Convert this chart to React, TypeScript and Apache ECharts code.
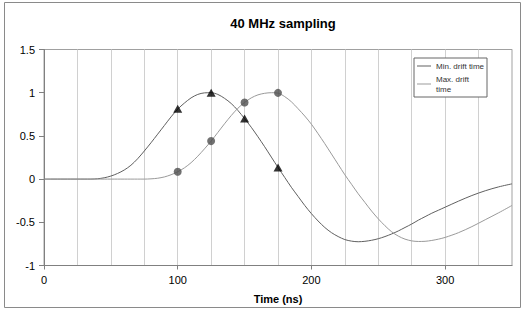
import React, { useEffect, useRef } from "react";
import * as echarts from "echarts";

const times = [0, 5, 10, 15, 20, 25, 30, 35, 40, 45, 50, 55, 60, 65, 70, 75, 80, 85, 90, 95, 100, 105, 110, 115, 120, 125, 130, 135, 140, 145, 150, 155, 160, 165, 170, 175, 180, 185, 190, 195, 200, 205, 210, 215, 220, 225, 230, 235, 240, 245, 250, 255, 260, 265, 270, 275, 280, 285, 290, 295, 300, 310, 320, 330, 340, 350];

const minDrift = [0, 0, 0, 0, 0, 0, 0, 0, 0.004, 0.015, 0.035, 0.065, 0.105, 0.16, 0.235, 0.325, 0.42, 0.52, 0.62, 0.72, 0.81, 0.88, 0.94, 0.98, 0.998, 1.0, 0.98, 0.935, 0.875, 0.795, 0.70, 0.60, 0.49, 0.375, 0.255, 0.135, 0.02, -0.095, -0.2, -0.305, -0.4, -0.485, -0.56, -0.62, -0.665, -0.7, -0.718, -0.725, -0.72, -0.708, -0.69, -0.665, -0.635, -0.6, -0.56, -0.52, -0.475, -0.435, -0.395, -0.36, -0.325, -0.255, -0.19, -0.135, -0.09, -0.055];

const maxDrift = [0, 0, 0, 0, 0, 0, 0, 0, 0, 0, 0, 0, 0, 0, 0, 0, 0.003, 0.01, 0.025, 0.05, 0.085, 0.13, 0.19, 0.265, 0.35, 0.44, 0.54, 0.64, 0.735, 0.82, 0.887, 0.94, 0.975, 0.993, 1.0, 0.995, 0.955, 0.895, 0.815, 0.73, 0.635, 0.525, 0.41, 0.29, 0.17, 0.05, -0.06, -0.17, -0.27, -0.37, -0.46, -0.54, -0.61, -0.66, -0.695, -0.715, -0.722, -0.72, -0.71, -0.695, -0.675, -0.62, -0.55, -0.47, -0.39, -0.305];

const sampleTimes = [100, 125, 150, 175];
const minSamples = [0.815, 1.0, 0.70, 0.135];
const maxSamples = [0.085, 0.44, 0.887, 0.998];

const yTicks = ["-1", "-0.5", "0", "0.5", "1", "1.5"];

const FONT = "'Liberation Sans', Arial, sans-serif";

export default function App() {
  const ref = useRef<HTMLDivElement>(null);
  useEffect(() => {
    if (!ref.current) return;
    const chart = echarts.init(ref.current, null, { renderer: "svg" });
    const pairs = (xs: number[], ys: number[]) => xs.map((x, i) => [x, ys[i]]);
    chart.setOption({
      animation: false,
      backgroundColor: "#ffffff",
      textStyle: { fontFamily: FONT },
      title: {
        text: "40 MHz sampling",
        left: 278,
        textAlign: "center",
        top: 12,
        textStyle: { fontFamily: FONT, fontSize: 13, fontWeight: "bold", color: "#000" },
      },
      graphic: [
        {
          type: "rect",
          shape: { x: 4.5, y: 2.5, width: 516, height: 305 },
          style: { fill: "none", stroke: "#8a8a8a", lineWidth: 1 },
          silent: true,
          z: 0,
        },
      ],
      legend: {
        orient: "vertical",
        left: 414,
        top: 58,
        backgroundColor: "#ffffff",
        borderColor: "#666",
        borderWidth: 1,
        borderRadius: 0,
        padding: [3, 3, 3, 3],
        itemGap: 3,
        itemWidth: 14,
        itemHeight: 1,
        icon: "rect",
        textStyle: { fontFamily: FONT, fontSize: 8, color: "#333", lineHeight: 10 },
        formatter: (name: string) => (name === "Max. drift time" ? "Max. drift\ntime" : name),
        data: ["Min. drift time", "Max. drift time"],
        z: 10,
      },
      grid: {
        left: 44,
        right: 12,
        top: 49.5,
        bottom: 45.5,
        show: true,
        borderColor: "#a0a0a0",
        borderWidth: 1,
        backgroundColor: "transparent",
      },
      xAxis: {
        type: "value",
        min: 0,
        max: 350,
        interval: 100,
        name: "Time (ns)",
        nameLocation: "middle",
        nameGap: 28,
        nameTextStyle: { fontFamily: FONT, fontSize: 11, fontWeight: "bold", color: "#000" },
        axisLine: { show: true, onZero: false, lineStyle: { color: "#808080" } },
        axisTick: { show: true, length: 4, lineStyle: { color: "#808080" } },
        axisLabel: { margin: 9, fontFamily: FONT, fontSize: 11, color: "#000", showMaxLabel: false },
        splitLine: { show: true, lineStyle: { color: "#d0d0d0", width: 1 } },
        minorTick: { show: false, splitNumber: 4 },
        minorSplitLine: { show: true, lineStyle: { color: "#d0d0d0", width: 1 } },
      },
      yAxis: {
        type: "value",
        min: -1,
        max: 1.5,
        interval: 0.5,
        axisLine: { show: true, onZero: false, lineStyle: { color: "#808080" } },
        axisTick: { show: true, length: 5, lineStyle: { color: "#808080" } },
        axisLabel: {
          margin: 9,
          fontFamily: FONT,
          fontSize: 11,
          color: "#000",
          formatter: (v: number) => {
            const idx = Math.round((v + 1) / 0.5);
            return yTicks[idx] ?? String(v);
          },
        },
        splitLine: { show: false },
      },
      series: [
        {
          name: "Min. drift time",
          type: "line",
          data: pairs(times, minDrift),
          smooth: 0.3,
          symbol: "none",
          showSymbol: false,
          lineStyle: { color: "#606060", width: 1 },
          itemStyle: { color: "#606060" },
          z: 3,
        },
        {
          name: "Max. drift time",
          type: "line",
          data: pairs(times, maxDrift),
          smooth: 0.3,
          symbol: "none",
          showSymbol: false,
          lineStyle: { color: "#9a9a9a", width: 1 },
          itemStyle: { color: "#9a9a9a" },
          z: 3,
        },
        {
          name: "Min samples",
          type: "scatter",
          data: pairs(sampleTimes, minSamples),
          symbol: "triangle",
          symbolSize: [9, 8],
          itemStyle: { color: "#000000" },
          z: 5,
        },
        {
          name: "Max samples",
          type: "scatter",
          data: pairs(sampleTimes, maxSamples),
          symbol: "circle",
          symbolSize: 8,
          itemStyle: { color: "#4d4d4d" },
          z: 5,
        },
      ],
    });
    return () => chart.dispose();
  }, []);
  return (
    <div style={{ position: "fixed", left: 0, top: 0, width: 524, height: 311, background: "#fff" }}>
      <div ref={ref} style={{ width: 524, height: 311 }} />
    </div>
  );
}
